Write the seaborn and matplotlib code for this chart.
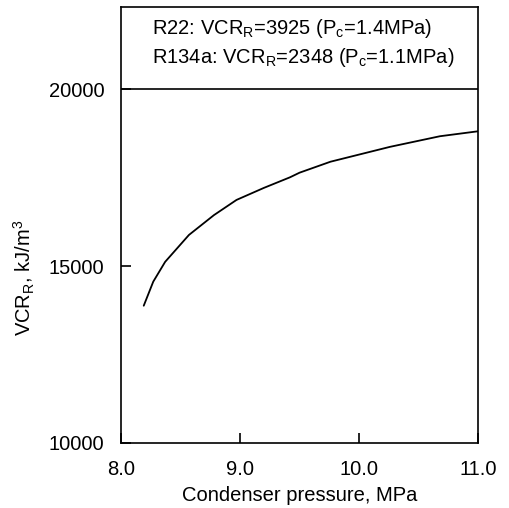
import numpy as np
import pandas as pd
import matplotlib
matplotlib.use("Agg")
import matplotlib.pyplot as plt
import seaborn as sns

# values
pressure = [8.19, 8.27, 8.37, 8.57, 8.78, 8.97, 9.20, 9.42, 9.50, 9.76, 10.26, 10.68, 11.0]
vcr = [13880, 14560, 15120, 15880, 16440, 16870, 17210, 17510, 17640, 17950, 18370, 18670, 18810]

x_ticks = [8.0, 9.0, 10.0, 11.0]
y_ticks = [10000, 15000, 20000]
notes = ["R22: VCR$_{\\mathregular{R}}$=3925 (P$_{\\mathregular{c}}$=1.4MPa)",
         "R134a: VCR$_{\\mathregular{R}}$=2348 (P$_{\\mathregular{c}}$=1.1MPa)"]

sns.set_theme(style="ticks")
plt.rcParams['font.family'] = ['Liberation Sans', 'DejaVu Sans']
plt.rcParams['mathtext.fontset'] = 'custom'
plt.rcParams['mathtext.rm'] = 'Liberation Sans'
plt.rcParams['text.color'] = 'black'
plt.rcParams['axes.labelcolor'] = 'black'

df = pd.DataFrame({"p": pressure, "vcr": vcr})

fig = plt.figure(figsize=(5.09, 5.08), dpi=100)
ax = fig.add_axes([0.238, 0.128, 0.701, 0.858])
sns.lineplot(data=df, x="p", y="vcr", color="black", linewidth=1.3, ax=ax)

ax.set_xlim(8.0, 11.0)
ax.set_ylim(10000, 22320)
ax.set_xticks(x_ticks)
ax.set_xticklabels([f"{v:.1f}" for v in x_ticks])
ax.set_yticks(y_ticks)
ax.axhline(20000, color="black", linewidth=1.2)

for s in ax.spines.values():
    s.set_linewidth(1.2)
    s.set_color("black")
ax.tick_params(direction="in", length=7, width=1.2, labelsize=14.5, colors="black")
ax.tick_params(axis="x", pad=12)
ax.tick_params(axis="y", pad=12)

ax.text(8.26, 21720, notes[0], fontsize=14.5, va="center", ha="left")
ax.text(8.26, 20900, notes[1], fontsize=14.5, va="center", ha="left")

ax.set_xlabel("Condenser pressure, MPa", fontsize=14.5, labelpad=5)
ax.set_ylabel("VCR$_{\\mathregular{R}}$, kJ/m$^{\\mathregular{3}}$", fontsize=14.5)
ax.yaxis.set_label_coords(-0.235, 0.378)

fig.savefig("out.png", dpi=100)
